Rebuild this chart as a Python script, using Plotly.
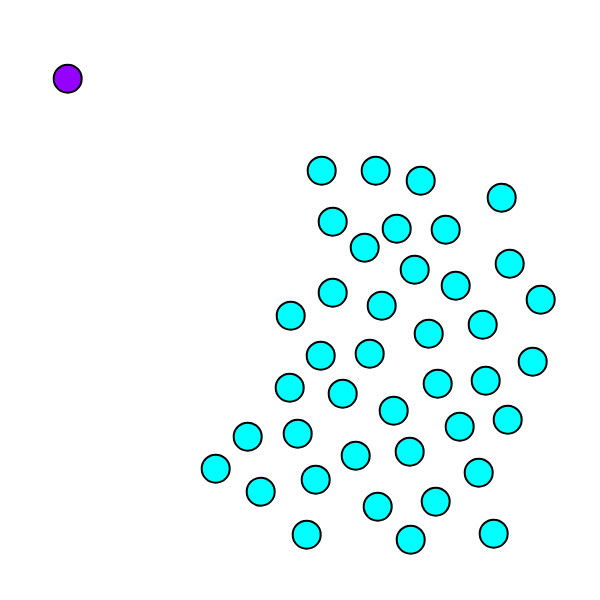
import plotly.graph_objects as go

# pixel-space readings (x right, y up from bottom of 600px canvas)
cyan_x = [321, 375, 420, 501, 332, 396, 445, 364, 414, 509, 332, 455, 381, 290, 540,
          428, 482, 320, 369, 532, 289, 342, 437, 485, 393, 247, 297, 459, 507, 215,
          355, 409, 260, 315, 478, 377, 435, 306, 410, 493]
cyan_y_px = [170, 170, 180, 197, 221, 228, 229, 247, 269, 263, 292, 285, 305, 315, 299,
             333, 324, 355, 353, 361, 387, 393, 383, 380, 410, 436, 433, 426, 419, 468,
             455, 451, 491, 479, 472, 506, 501, 534, 539, 533]
cyan_y = [600 - v for v in cyan_y_px]

purple_x = [67]
purple_y = [600 - 78]

fig = go.Figure()
fig.add_trace(go.Scatter(x=cyan_x, y=cyan_y, mode="markers",
                         marker=dict(size=28, color="#00FFFF", line=dict(color="black", width=2)),
                         showlegend=False))
fig.add_trace(go.Scatter(x=purple_x, y=purple_y, mode="markers",
                         marker=dict(size=28, color="#9600FF", line=dict(color="black", width=2)),
                         showlegend=False))
fig.update_layout(width=600, height=600, margin=dict(l=0, r=0, t=0, b=0),
                  paper_bgcolor="white", plot_bgcolor="white",
                  xaxis=dict(range=[-0.7, 599.3], visible=False),
                  yaxis=dict(range=[0.7, 600.7], visible=False))
fig.write_html("out.html")
